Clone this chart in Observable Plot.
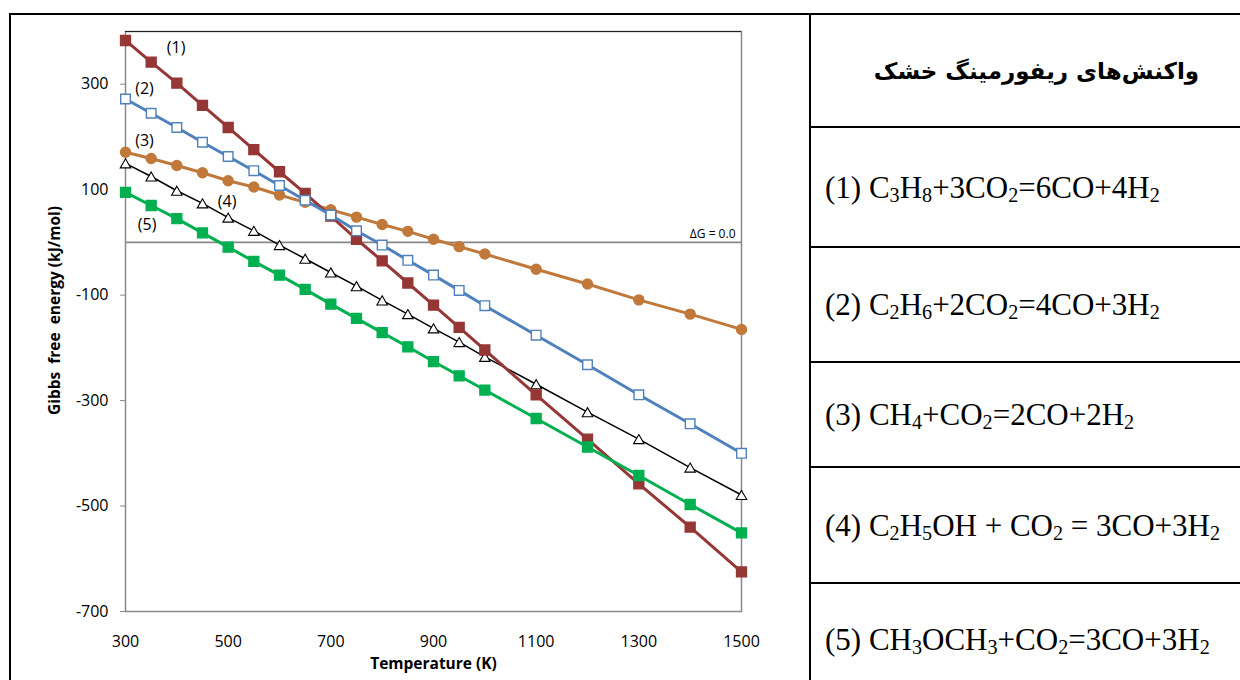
<!DOCTYPE html>
<html><head><meta charset="utf-8">
<script src="https://cdn.jsdelivr.net/npm/d3@7"></script>
<script src="https://cdn.jsdelivr.net/npm/@observablehq/plot@0.6"></script>
<style>
body{margin:0;background:#fff;width:1240px;height:680px;overflow:hidden;position:relative;font-family:"Open Sans";}
#chart{position:absolute;left:0;top:0;}
.hl{position:absolute;background:#000;height:2px;}
.vl{position:absolute;background:#000;width:2px;}
.cell{position:absolute;left:811px;width:429px;display:flex;align-items:center;font-family:"Liberation Serif";font-size:31px;padding-left:14px;box-sizing:border-box;white-space:pre;color:#000;}
.cell sub{font-size:0.65em;vertical-align:-0.2em;line-height:0}
.head{justify-content:center;font-family:"DejaVu Sans";font-weight:bold;font-size:23px;direction:rtl;padding-left:22px}
</style>
</head><body>
<div id="chart"></div>
<script>
const temps = [300,350,400,450,500,550,600,650,700,750,800,850,900,950,1000,1100,1200,1300,1400,1500];
const r1 = [383,342,302,260,218,176,134,93,50,6,-35,-77,-119,-161,-204,-289,-373,-458,-540,-625];
const r2 = [272,245,218,190,163,136,108,80,52,22,-5,-34,-62,-91,-120,-176,-232,-289,-344,-400];
const r3 = [171,159,146,132,117,105,90,76,62,48,34,21,6,-8,-22,-51,-79,-109,-136,-165];
const r4 = [150,125,98,74,47,22,-5,-31,-57,-83,-110,-136,-163,-189,-217,-269,-322,-373,-427,-479];
const r5 = [95,70,45,18,-9,-36,-62,-89,-117,-144,-171,-198,-226,-253,-280,-334,-388,-442,-497,-551];
const xTicks = [300,500,700,900,1100,1300,1500];
const yTicks = [-700,-500,-300,-100,100,300];
const seriesNames = ["(1)","(2)","(3)","(4)","(5)"];
const title = "واکنش‌های ریفورمینگ خشک";
const equations = [
  "(1) C<sub>3</sub>H<sub>8</sub>+3CO<sub>2</sub>=6CO+4H<sub>2</sub>",
  "(2) C<sub>2</sub>H<sub>6</sub>+2CO<sub>2</sub>=4CO+3H<sub>2</sub>",
  "(3) CH<sub>4</sub>+CO<sub>2</sub>=2CO+2H<sub>2</sub>",
  "(4) C<sub>2</sub>H<sub>5</sub>OH + CO<sub>2</sub> = 3CO+3H<sub>2</sub>",
  "(5) CH<sub>3</sub>OCH<sub>3</sub>+CO<sub>2</sub>=3CO+3H<sub>2</sub>"
];
const xLabel = "Temperature (K)";
const yLabel = "Gibbs\u00A0 free\u00A0 energy (kJ/mol)";
const zeroLabel = "ΔG = 0.0";

const styles = {
  "(1)": {values:r1, line:"#953735", fill:"#953735", stroke:"#953735", symbol:"square", r:5.6, sw:3, lab:{idx:1,dx:25,dy:-14}},
  "(2)": {values:r2, line:"#4F81BD", fill:"#fff", stroke:"#4F81BD", symbol:"square", r:5.4, sw:3, lab:{idx:0,dx:19,dy:-10}},
  "(3)": {values:r3, line:"#C0793A", fill:"#C0793A", stroke:"#C0793A", symbol:"circle", r:5, sw:3, lab:{idx:0,dx:19,dy:-11}},
  "(4)": {values:r4, line:"#000", fill:"#fff", stroke:"#000", symbol:"triangle", r:3.9, sw:1.5, lab:{idx:4,dx:-1,dy:-16}},
  "(5)": {values:r5, line:"#00B050", fill:"#00B050", stroke:"#00B050", symbol:"square", r:5.6, sw:3, lab:{idx:1,dx:-4,dy:19}}
};
const drawOrder = ["(4)","(3)","(1)","(2)","(5)"];

const marks = [
  Plot.frame({stroke:"#888", strokeWidth:1.5}),
  Plot.ruleY([400], {stroke:"#222", strokeWidth:1}),
  Plot.ruleY([0], {stroke:"#888", strokeWidth:1.8}),
  Plot.text([zeroLabel], {x:()=>1500, y:()=>0, textAnchor:"end", dx:-6, dy:-8, fontSize:12, fill:"#000"}),
  Plot.axisX(xTicks, {tickSize:0, tickPadding:24, fontSize:16, fill:"#000", tickFormat:d=>String(d), label:null}),
  Plot.axisY(yTicks, {tickSize:5, tickPadding:12, fontSize:16, stroke:"#888", fill:"#000", tickFormat:d=>String(d), label:null}),
  Plot.text([xLabel], {frameAnchor:"bottom", dy:57, fontWeight:"bold", fontSize:15.5, fill:"#000"}),
  Plot.text([yLabel], {frameAnchor:"left", textAnchor:"middle", rotate:-90, dx:-70, dy:-11, fontWeight:"bold", fontSize:15.5, fill:"#000"})
];
for (const name of drawOrder) {
  const s = styles[name];
  const data = temps.map((t,i)=>({T:t, G:s.values[i]}));
  marks.push(Plot.line(data, {x:"T", y:"G", stroke:s.line, strokeWidth:s.sw}));
  marks.push(Plot.dot(data, {x:"T", y:"G", symbol:s.symbol, r:s.r, fill:s.fill, stroke:s.stroke,
    strokeWidth: s.symbol==="triangle" ? 1.1 : 1.4, dy: s.symbol==="triangle" ? 1.5 : 0}));
}
for (const name of seriesNames) {
  const s = styles[name];
  marks.push(Plot.text([name], {x:()=>temps[s.lab.idx], y:()=>s.values[s.lab.idx], dx:s.lab.dx, dy:s.lab.dy, fontSize:16, fill:"#000"}));
}

const chart = Plot.plot({
  width:810, height:680, marginLeft:125, marginRight:69, marginTop:31, marginBottom:69,
  style:{fontFamily:"Open Sans", fontSize:"16px", color:"#000", background:"transparent"},
  x:{domain:[300,1500]},
  y:{domain:[-700,400]},
  marks
});
document.getElementById("chart").appendChild(chart);

// table borders and cells
const rowEdges = [14,127,247,362,467,583,695];
function addLine(cls, css){ const d=document.createElement("div"); d.className=cls; Object.assign(d.style, css); document.body.appendChild(d); }
addLine("hl", {left:"9px", top:"13px", width:"1240px"});
addLine("vl", {left:"9px", top:"13px", height:"700px"});
addLine("vl", {left:"809px", top:"13px", height:"700px"});
rowEdges.slice(1,-1).forEach(y=>addLine("hl", {left:"810px", top:(y-1)+"px", width:"440px"}));
const texts = [title, ...equations];
texts.forEach((t,i)=>{
  const d=document.createElement("div");
  d.className = i===0 ? "cell head" : "cell";
  d.style.top = (rowEdges[i]+1)+"px";
  d.style.height = (rowEdges[i+1]-rowEdges[i]-1)+"px";
  const span = document.createElement("span");
  if (i===0) span.textContent = t; else span.innerHTML = t;
  d.appendChild(span);
  document.body.appendChild(d);
});
</script>
</body></html>
